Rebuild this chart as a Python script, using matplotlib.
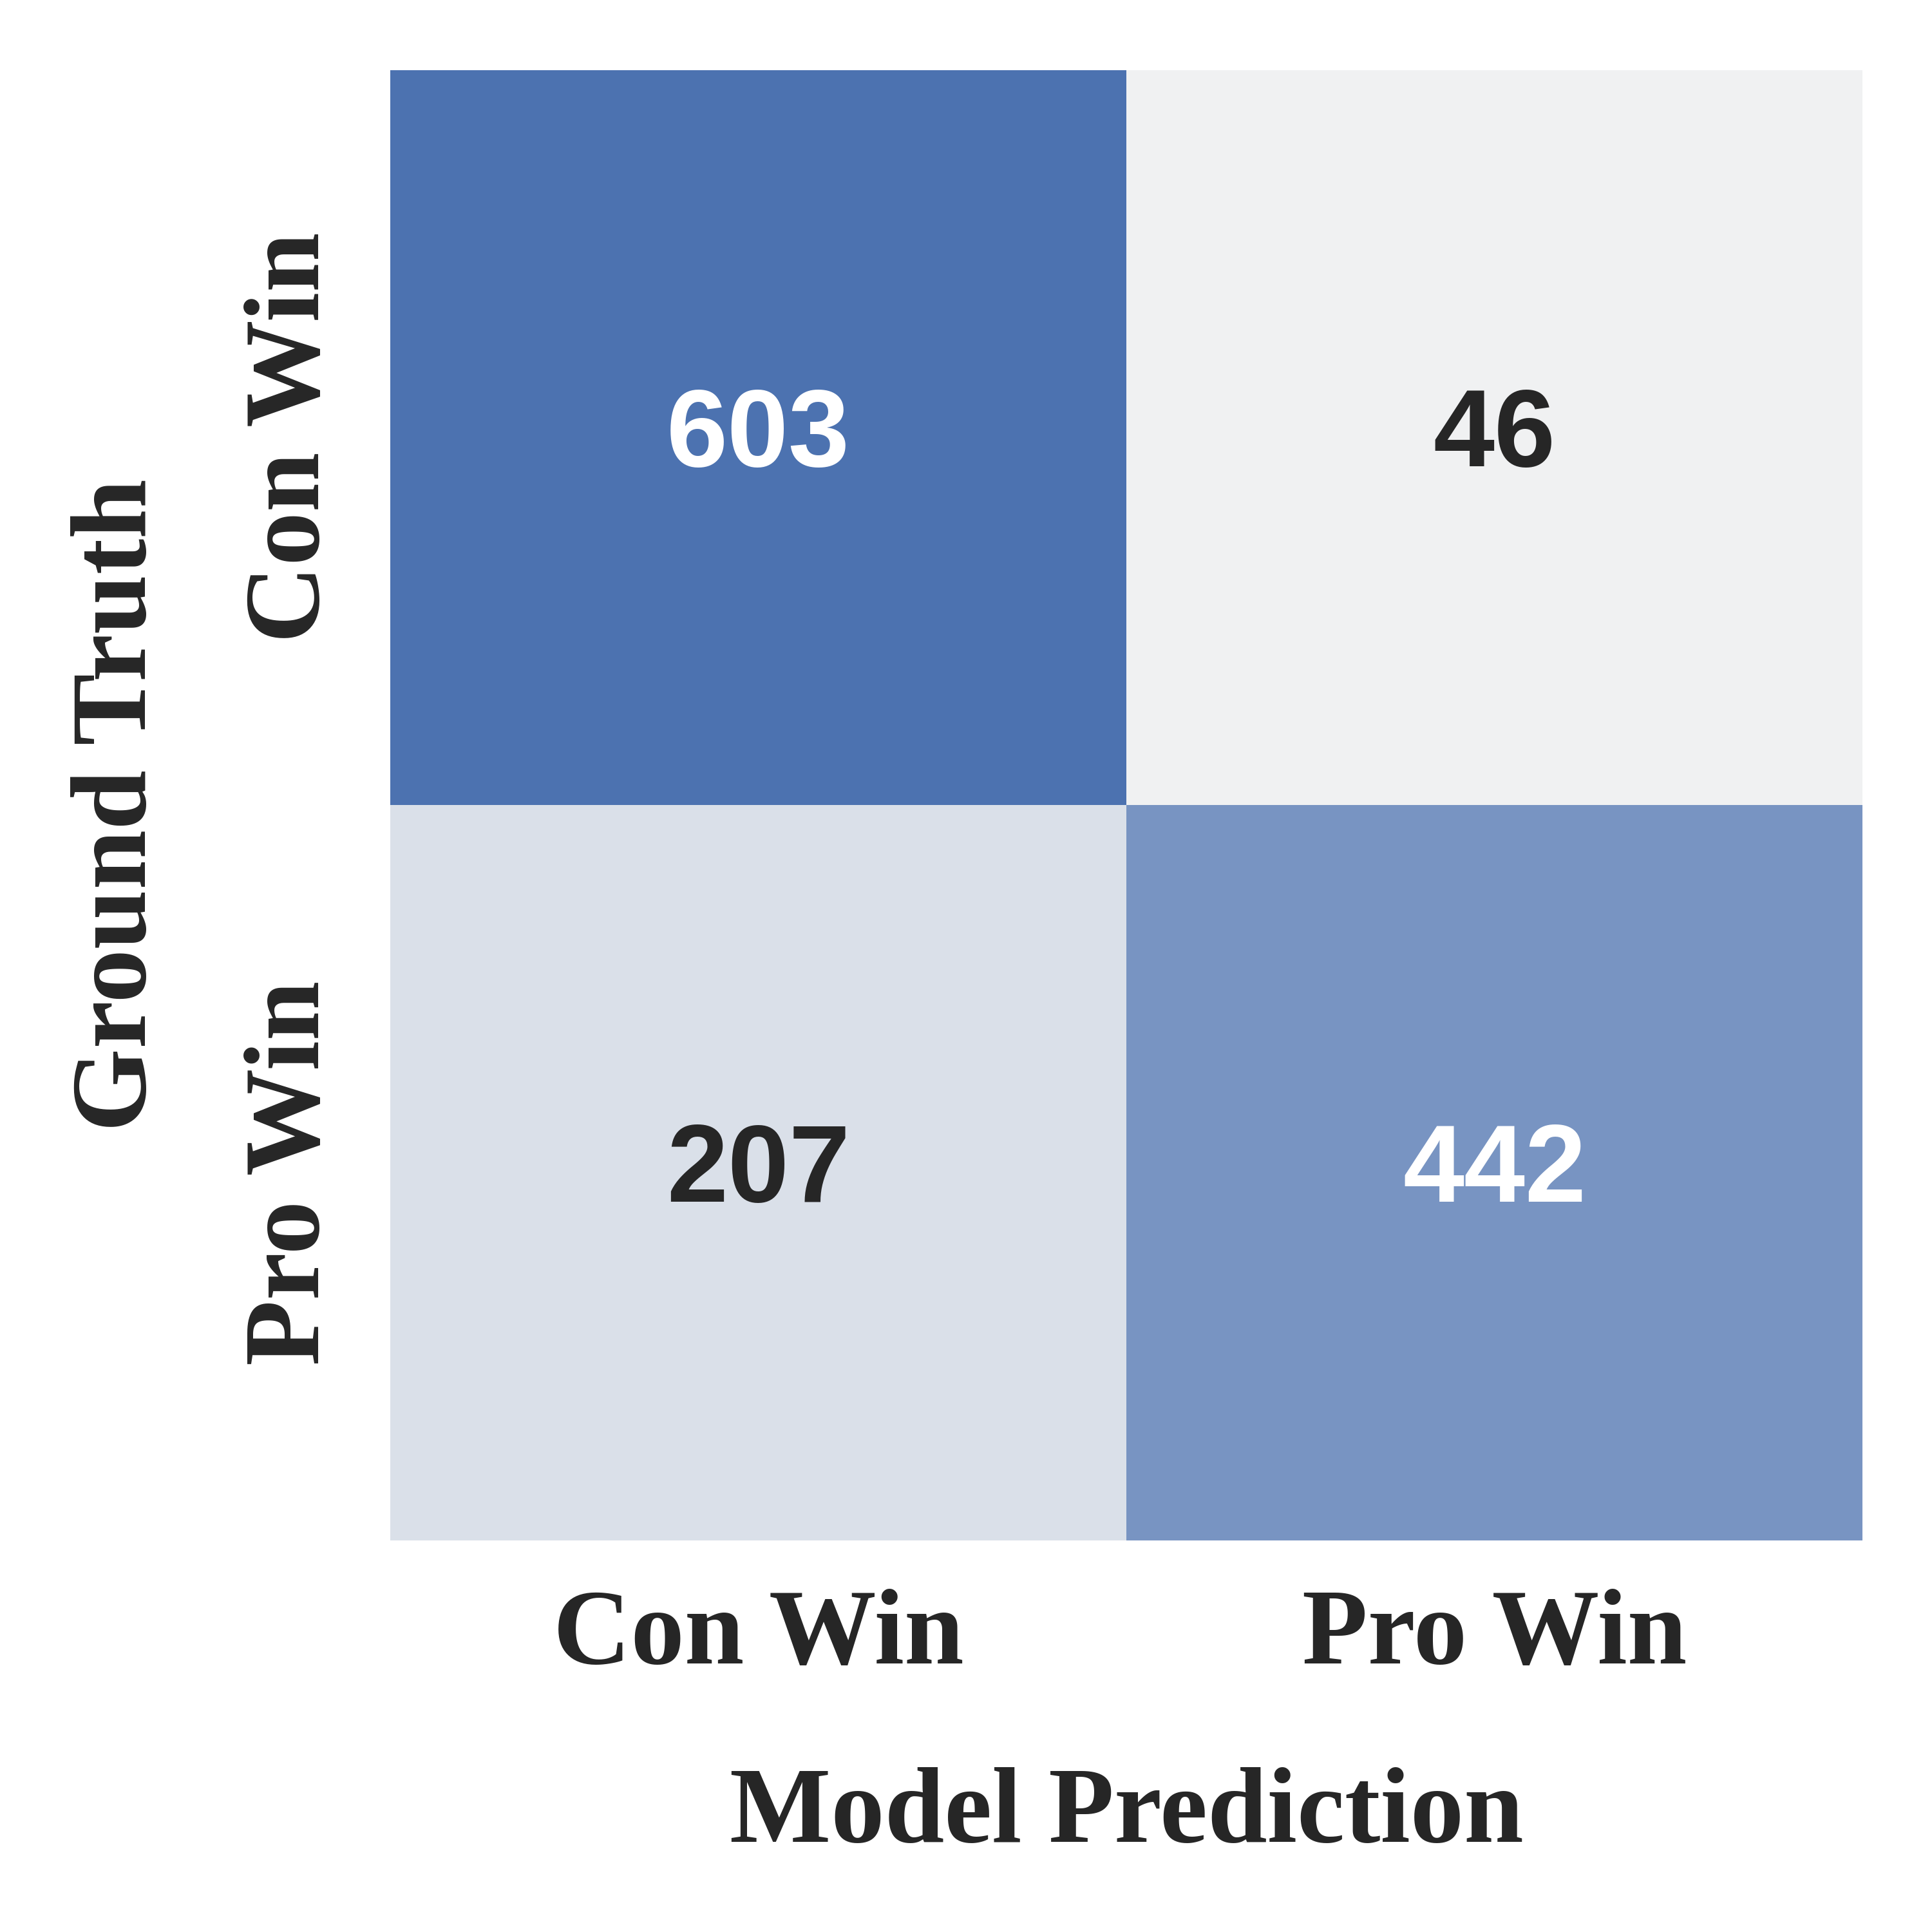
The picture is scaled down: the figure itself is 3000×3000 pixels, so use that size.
import matplotlib

matplotlib.use("Agg")
import matplotlib.pyplot as plt
import numpy as np
import seaborn as sns

# confusion matrix values (rows = ground truth, cols = prediction)
class_labels = ["Con Win", "Pro Win"]
row_con = [603, 46]
row_pro = [207, 442]

sns.set_theme(style="white")
plt.rcParams["font.family"] = "serif"
plt.rcParams["font.serif"] = ["Liberation Serif", "Times New Roman", "DejaVu Serif"]

matrix = np.array([row_con, row_pro])
cmap = sns.light_palette("#4C72B0", as_cmap=True)

fig = plt.figure(figsize=(10, 10), dpi=300)
ax = fig.add_axes([0.202, 0.2027, 0.762, 0.761])

sns.heatmap(
    matrix,
    ax=ax,
    cmap=cmap,
    vmin=154,
    vmax=549,
    cbar=False,
    annot=True,
    fmt="d",
    annot_kws={"fontsize": 41, "fontweight": "bold", "family": "Liberation Sans"},
    xticklabels=class_labels,
    yticklabels=class_labels,
)

ax.tick_params(axis="both", length=0, pad=18)
ax.set_xticklabels(class_labels, fontsize=40, fontweight="bold", color="#262626")
ax.set_yticklabels(class_labels, fontsize=40, fontweight="bold", color="#262626",
                   rotation=90, va="center")
ax.set_xlabel("Model Prediction", fontsize=40, fontweight="bold", color="#262626", labelpad=30)
ax.set_ylabel("Ground Truth", fontsize=40, fontweight="bold", color="#262626", labelpad=28)

fig.savefig("out.png", dpi=300)
plt.close(fig)
